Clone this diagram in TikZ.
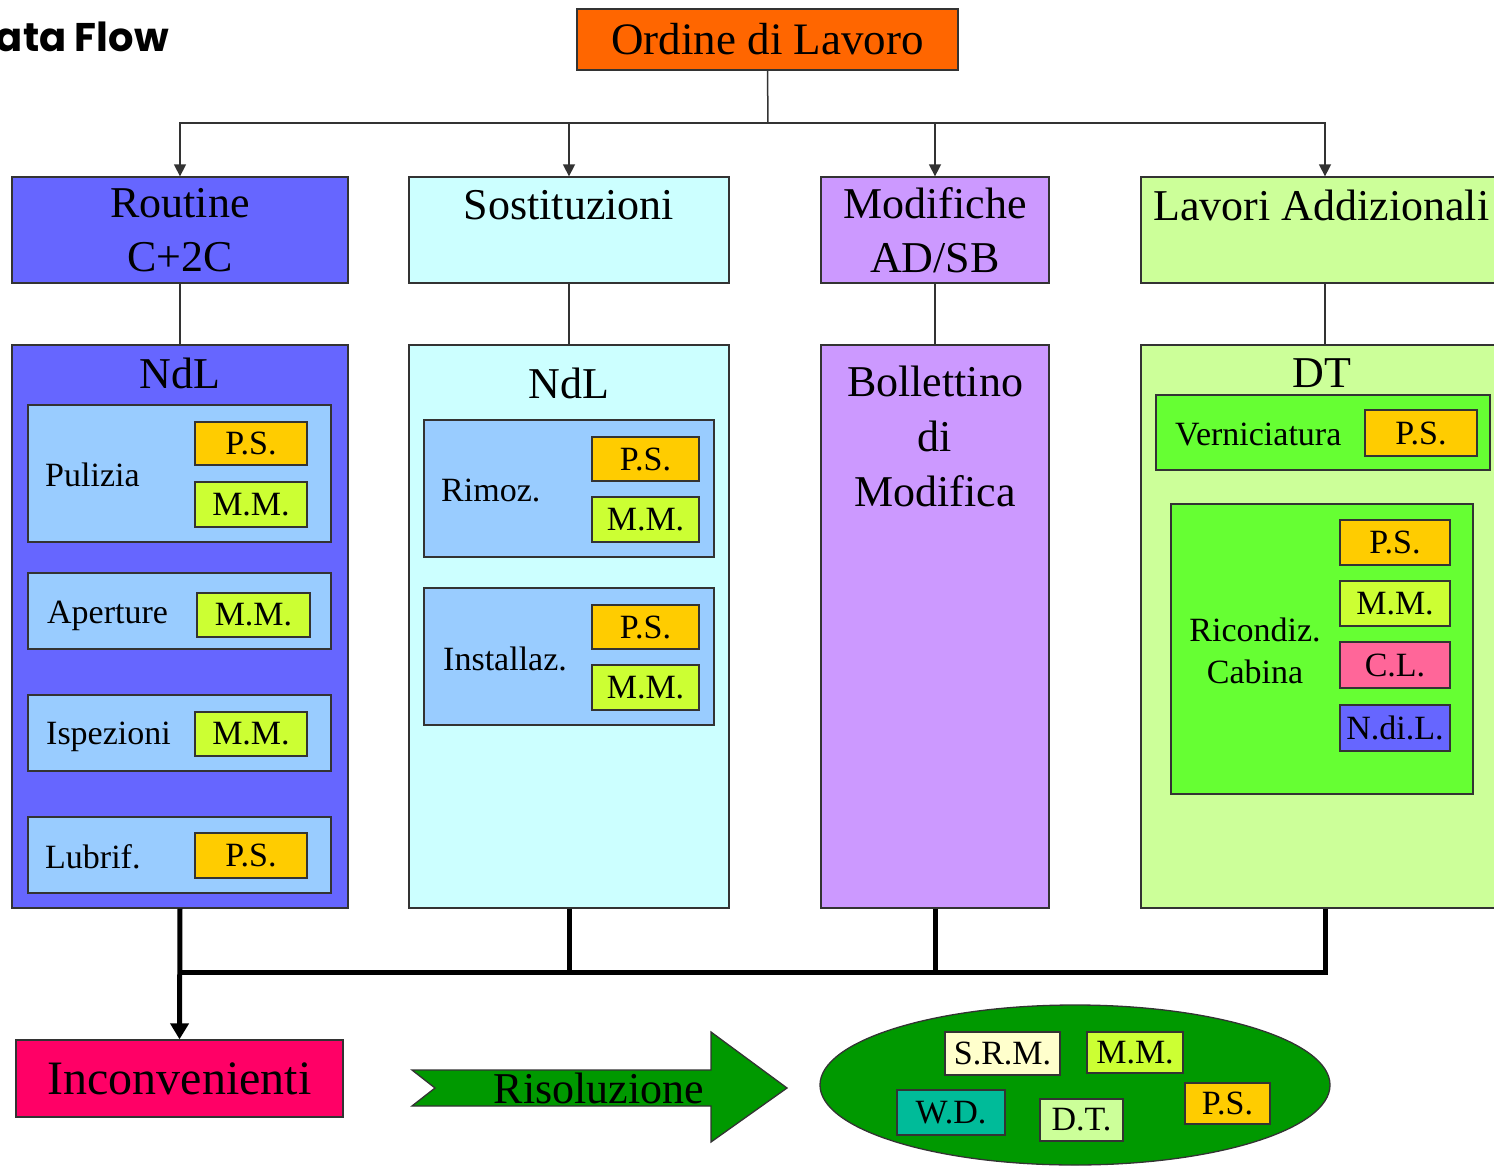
\documentclass[tikz,border=0pt]{standalone}
\usepackage{fontspec}
\setmainfont{Liberation Serif}
\newfontfamily\titlefont{Poppins}
\usetikzlibrary{arrows.meta,shapes.geometric}

\definecolor{ordC}{HTML}{FF6600}
\definecolor{blueC}{HTML}{6666FF}
\definecolor{cyanC}{HTML}{CCFFFF}
\definecolor{violC}{HTML}{CC99FF}
\definecolor{limeC}{HTML}{CCFF99}
\definecolor{skyC}{HTML}{99CCFF}
\definecolor{psC}{HTML}{FFCC00}
\definecolor{mmC}{HTML}{CCFF33}
\definecolor{grnC}{HTML}{66FF33}
\definecolor{clC}{HTML}{FF6699}
\definecolor{incC}{HTML}{FF0066}
\definecolor{darkG}{HTML}{009900}
\definecolor{wdC}{HTML}{00BB99}
\definecolor{srmC}{HTML}{FFFFCC}
\definecolor{lineC}{HTML}{333333}

% box from (x1,y1) to (x2,y2): name, x1, y1, x2, y2, style, text
\newcommand\boxat[7]{%
  \node[box,#6,minimum width={#4-#2},minimum height={#5-#3}]
    (#1) at ({(#2+#4)/2},{(#3+#5)/2}) {#7};}

\tikzset{
  box/.style={draw=lineC,line width=1.3pt,inner sep=0pt,align=center},
  big/.style={font=\fontsize{44}{54}\selectfont},
  mid/.style={font=\fontsize{34}{42}\selectfont},
  lbl/.style={inner sep=0pt,align=center},
  thinline/.style={draw=lineC,line width=1.5pt},
  thinarrow/.style={thinline,-{Triangle[width=12pt,length=12pt]}},
  busline/.style={draw=black,line width=5pt},
  busarrow/.style={busline,-{Triangle[width=18pt,length=16pt]}},
}

\begin{document}
\begin{tikzpicture}[x=1pt,y=-1pt]
\useasboundingbox (0,0) rectangle (1494,1166);

% title
\node[lbl,anchor=east,font=\titlefont\bfseries\fontsize{40}{46}\selectfont] (title) at (169,37) {Data Flow};

% root
\boxat{ord}{577}{9}{958}{70}{fill=ordC,font=\fontsize{45}{54}\selectfont}{Ordine di Lavoro}

% first row
\boxat{rout}{12}{177}{348}{283}{fill=blueC,big}{Routine\\C+2C}
\boxat{sost}{409}{177}{729}{283}{fill=cyanC}{}
\node[lbl,big] (sostT) at (569,205) {Sostituzioni};
\boxat{modi}{821}{177}{1049}{283}{fill=violC,big}{Modifiche\\AD/SB}
\boxat{lavo}{1141}{177}{1509}{283}{fill=limeC}{}
\node[lbl,big,anchor=west] (lavoT) at (1153,205) {Lavori Addizionali};

% second row
\boxat{colA}{12}{345}{348}{908}{fill=blueC}{}
\boxat{colB}{409}{345}{729}{908}{fill=cyanC}{}
\boxat{colC}{821}{345}{1049}{908}{fill=violC}{}
\boxat{colD}{1141}{345}{1509}{908}{fill=limeC}{}

\node[lbl,big] (ndlA) at (180,373) {NdL};
\node[lbl,big] (ndlB) at (569,383) {NdL};
\node[lbl,font=\fontsize{44}{55}\selectfont] (boll) at (935,436) {Bollettino\\di\\Modifica};
\node[lbl,big] (dtT) at (1322,373) {DT};

% column A
\boxat{puli}{28}{405}{331}{542}{fill=skyC}{}
\node[lbl,mid,anchor=west] (puliT) at (45,475) {Pulizia};
\boxat{puliP}{195}{422}{307}{465}{fill=psC,mid}{P.S.}
\boxat{puliM}{195}{482}{307}{527}{fill=mmC,mid}{M.M.}
\boxat{aper}{28}{573}{331}{649}{fill=skyC}{}
\node[lbl,mid,anchor=west] (aperT) at (47,616) {Aperture};
\boxat{aperM}{197}{593}{310}{637}{fill=mmC,mid}{M.M.}
\boxat{ispe}{28}{695}{331}{771}{fill=skyC}{}
\node[lbl,mid,anchor=west] (ispeT) at (46,737) {Ispezioni};
\boxat{ispeM}{195}{712}{307}{756}{fill=mmC,mid}{M.M.}
\boxat{lubr}{28}{817}{331}{893}{fill=skyC}{}
\node[lbl,mid,anchor=west] (lubrT) at (45,857) {Lubrif.};
\boxat{lubrP}{195}{833}{307}{878}{fill=psC,mid}{P.S.}

% column B
\boxat{rimo}{424}{420}{714}{557}{fill=skyC}{}
\node[lbl,mid,anchor=west] (rimoT) at (441,490) {Rimoz.};
\boxat{rimoP}{592}{437}{699}{481}{fill=psC,mid}{P.S.}
\boxat{rimoM}{592}{497}{699}{542}{fill=mmC,mid}{M.M.}
\boxat{inst}{424}{588}{714}{725}{fill=skyC}{}
\node[lbl,mid,anchor=west] (instT) at (443,659) {Installaz.};
\boxat{instP}{592}{605}{699}{649}{fill=psC,mid}{P.S.}
\boxat{instM}{592}{665}{699}{710}{fill=mmC,mid}{M.M.}

% column D
\boxat{vern}{1156}{395}{1490}{470}{fill=grnC}{}
\node[lbl,mid,anchor=west] (vernT) at (1175,435) {Verniciatura};
\boxat{vernP}{1365}{410}{1477}{456}{fill=psC,mid}{P.S.}
\boxat{rico}{1171}{504}{1473}{794}{fill=grnC}{}
\node[lbl,mid] (ricoT) at (1255,651) {Ricondiz.\\Cabina};
\boxat{ricoP}{1340}{520}{1450}{565}{fill=psC,mid}{P.S.}
\boxat{ricoM}{1340}{581}{1450}{626}{fill=mmC,mid}{M.M.}
\boxat{ricoC}{1340}{642}{1450}{688}{fill=clC,mid}{C.L.}
\boxat{ricoN}{1340}{705}{1450}{751}{fill=blueC,mid}{N.di.L.}

% distribution from the work order
\coordinate (hub) at (768,123);
\draw[thinline] (ord.south) -- (hub);
\draw[thinarrow] (hub) -| (rout.north);
\draw[thinarrow] (hub) -| (sost.north);
\draw[thinarrow] (hub) -| (modi.north);
\draw[thinarrow] (hub) -| (lavo.north);

% first row to second row
\draw[thinline] (rout.south) -- (colA.north);
\draw[thinline] (sost.south) -- (colB.north);
\draw[thinline] (modi.south) -- (colC.north);
\draw[thinline] (lavo.south) -- (colD.north);

% collecting bus
\coordinate (bus) at (180,972);
\draw[busline] (colB.south) -- (colB.south |- bus);
\draw[busline] (colC.south) -- (colC.south |- bus);
\draw[busline] (colD.south) -- (colD.south |- bus) -- (bus);

% problems
\boxat{inco}{16}{1040}{343}{1117}{fill=incC,font=\fontsize{48}{56}\selectfont}{Inconvenienti}
\draw[busarrow] (colA.south) -- (inco.north);

% resolution arrow
\draw[fill=darkG,draw=lineC,line width=1.3pt]
  (412,1070) -- (711,1070) -- (711,1032) -- (787,1088) -- (711,1142)
  -- (711,1106) -- (412,1106) -- (435,1088) -- cycle;
\node[lbl,font=\fontsize{44}{54}\selectfont] (riso) at (599,1088) {Risoluzione};

% resources
\node[ellipse,draw=lineC,line width=1.3pt,fill=darkG,minimum width=510pt,minimum height=160pt,inner sep=0pt] (res) at (1075,1085) {};
\boxat{srm}{945}{1032}{1060}{1075}{fill=srmC,mid}{S.R.M.}
\boxat{resM}{1087}{1032}{1183}{1073}{fill=mmC,mid}{M.M.}
\boxat{wd}{897}{1090}{1005}{1135}{fill=wdC,mid}{W.D.}
\boxat{dt}{1040}{1099}{1123}{1141}{fill=limeC,mid}{D.T.}
\boxat{resP}{1185}{1083}{1270}{1124}{fill=psC,mid}{P.S.}

\end{tikzpicture}
\end{document}
